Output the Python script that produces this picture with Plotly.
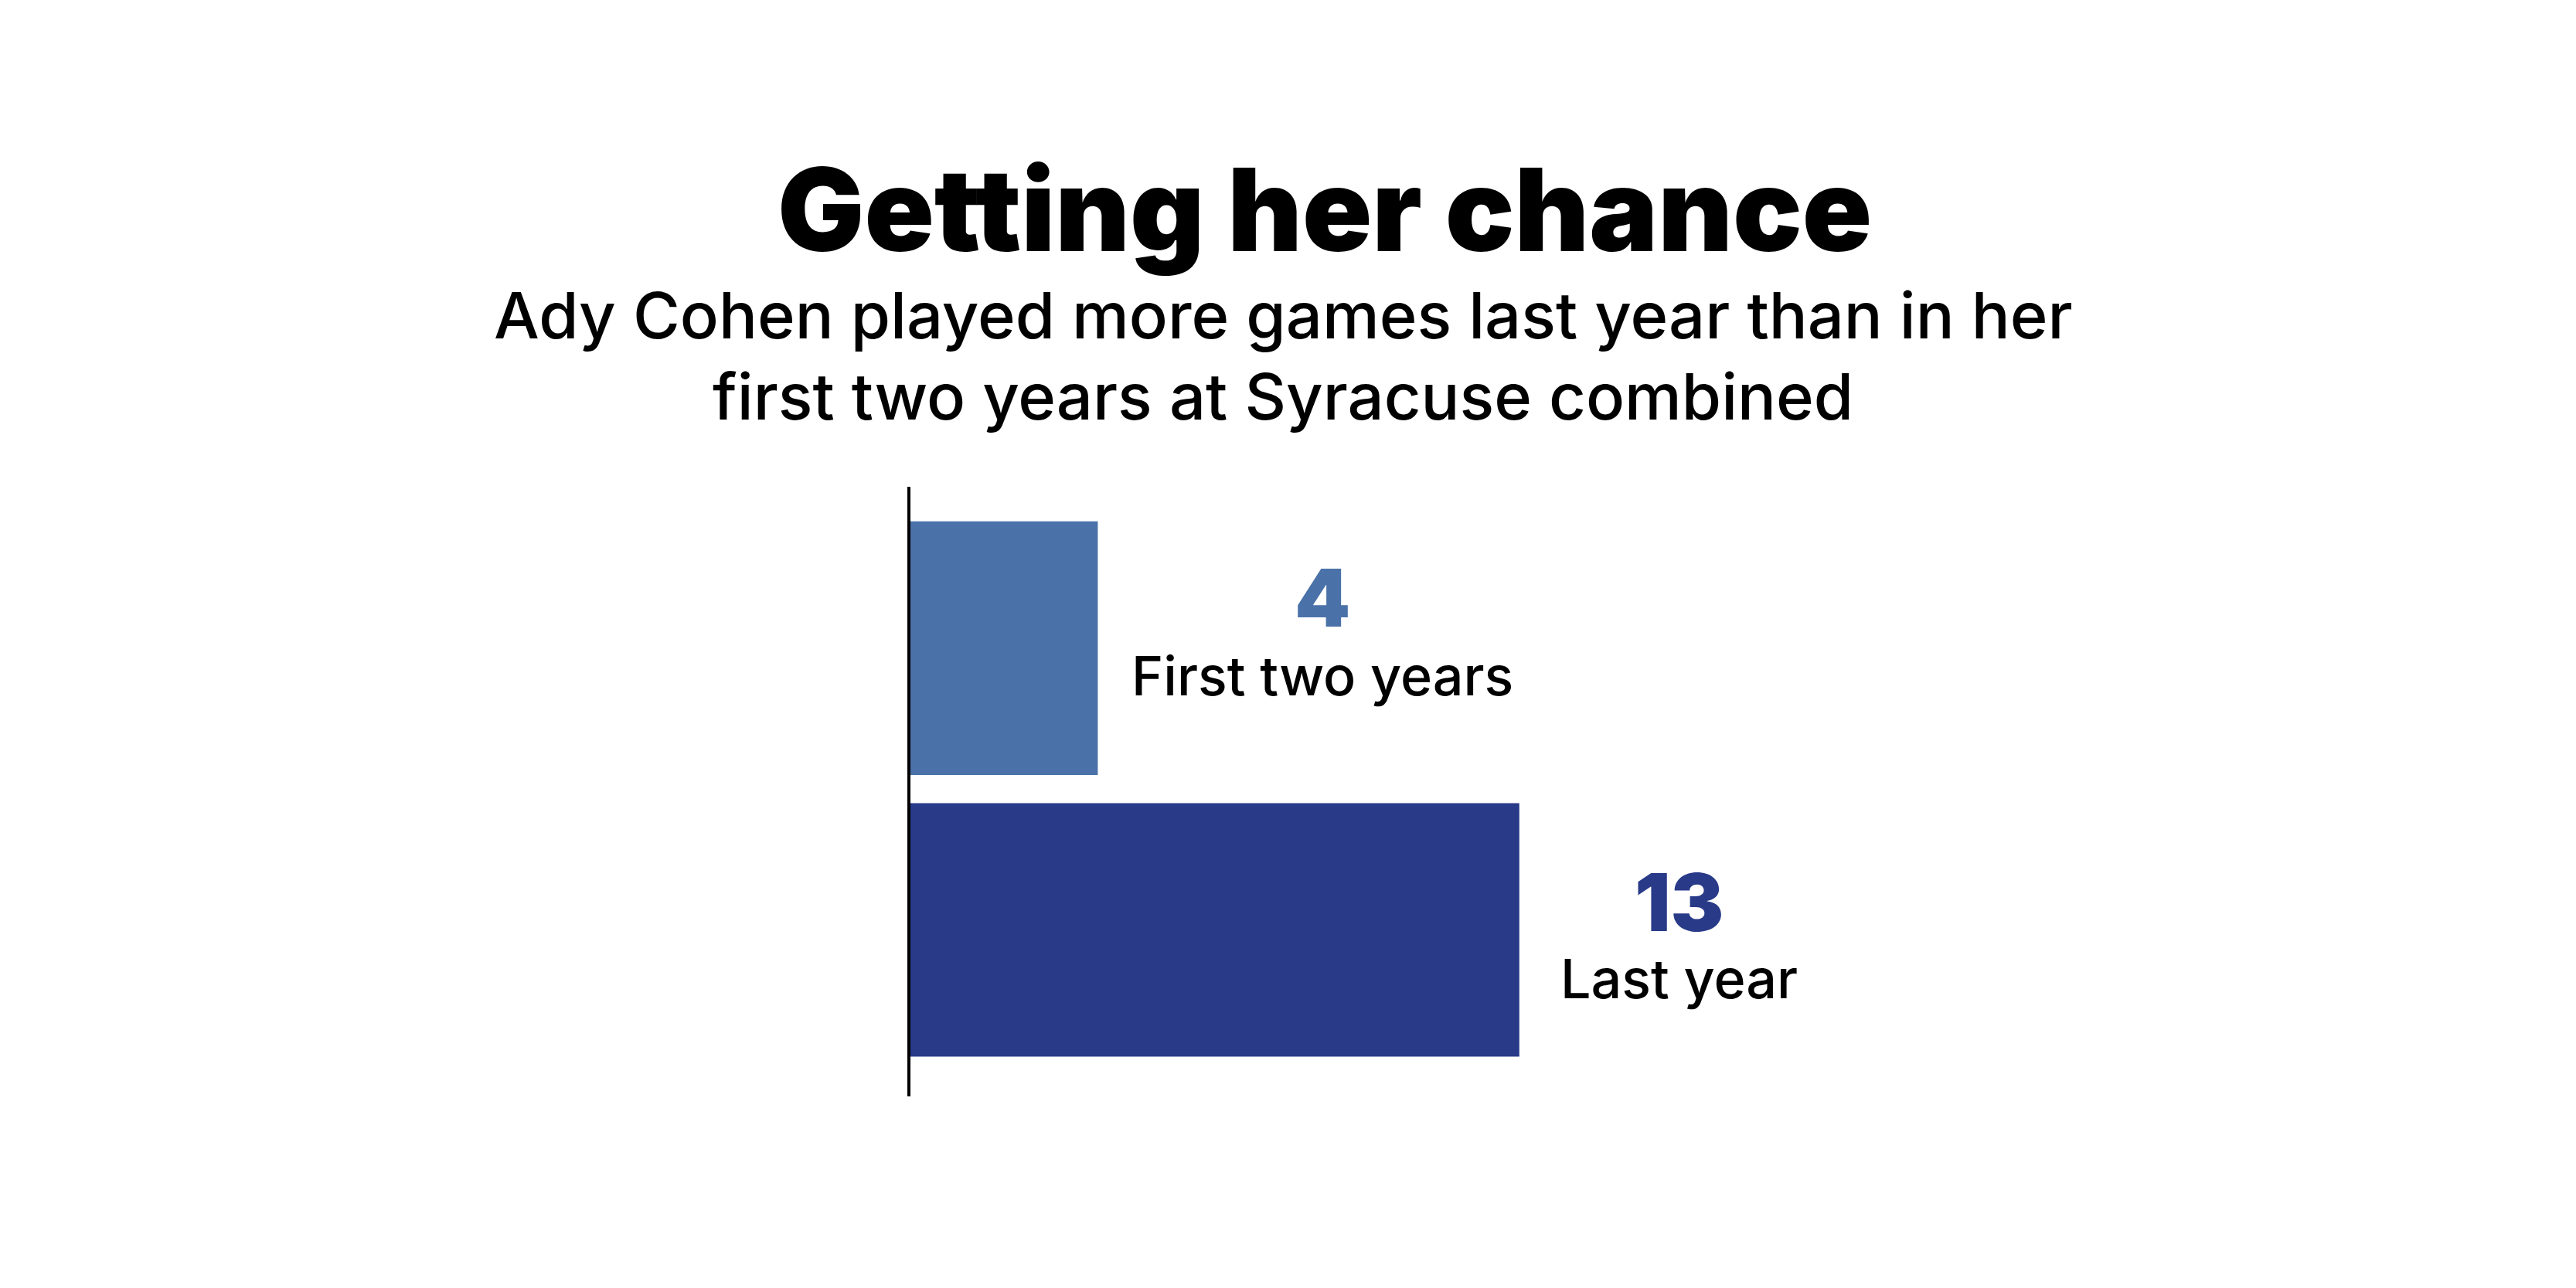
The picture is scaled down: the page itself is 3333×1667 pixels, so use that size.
import plotly.graph_objects as go

categories = ["First two years", "Last year"]
games = [4, 13]
value_labels = ["4", "13"]
bar_colors = ["#4a72a8", "#293a88"]

title = "Getting her chance"
subtitle_lines = ["Ady Cohen played more games last year than in her",
                  "first two years at Syracuse combined"]

W, H = 3333, 1667
# plot area in page pixels
L, R, T, B = 1170, 2382, 622, 1411


def px(x, y):
    # page pixel -> paper coords
    return (x - L) / (R - L), (B - y) / (B - T)


fig = go.Figure()
fig.add_trace(go.Bar(
    x=games, y=categories, orientation="h",
    marker=dict(color=bar_colors, line=dict(width=0)),
    width=0.9, hoverinfo="skip",
))

annotations = []

# title + subtitle
tx, ty = px(1706, 263)
annotations.append(dict(text=title, x=tx, y=ty, xref="paper", yref="paper",
                        xanchor="center", yanchor="middle", showarrow=False,
                        font=dict(family="Inter", size=149, color="#000000", weight=900)))
for i, line in enumerate(subtitle_lines):
    sx, sy = px(1652, 400 + i * 105)
    annotations.append(dict(text=line, x=sx, y=sy, xref="paper", yref="paper",
                            xanchor="center", yanchor="middle", showarrow=False,
                            font=dict(family="Inter", size=83, color="#000000", weight=500)))

# value + category labels next to the bars
label_x = [1703, 2164]
num_y = [765, 1159]
cat_y = [866, 1258]
for i in range(len(games)):
    nx, ny = px(label_x[i], num_y[i])
    annotations.append(dict(text=value_labels[i], x=nx, y=ny,
                            xref="paper", yref="paper", xanchor="center", yanchor="middle",
                            showarrow=False,
                            font=dict(family="Inter", size=103, color=bar_colors[i], weight=900)))
    cx, cy = px(label_x[i], cat_y[i])
    annotations.append(dict(text=categories[i], x=cx, y=cy,
                            xref="paper", yref="paper", xanchor="center", yanchor="middle",
                            showarrow=False,
                            font=dict(family="Inter", size=70, color="#000000", weight=500)))

fig.update_layout(
    width=W, height=H,
    margin=dict(l=L, r=W - R, t=T, b=H - B, pad=0),
    paper_bgcolor="white", plot_bgcolor="white",
    showlegend=False,
    xaxis=dict(range=[0, 20], visible=False, fixedrange=True),
    yaxis=dict(type="category", range=[1.591, -0.573], showline=True, linecolor="#000000",
               linewidth=4, showticklabels=False, ticks="", showgrid=False, zeroline=False,
               fixedrange=True),
    annotations=annotations,
)

fig.write_html("out.html")
